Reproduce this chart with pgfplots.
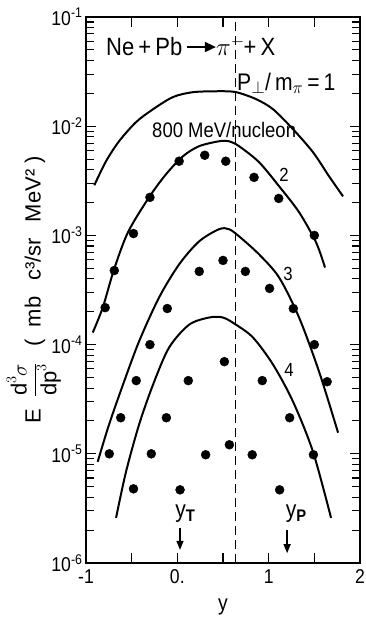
\documentclass[border=0pt]{standalone}
\usepackage{fontspec}
\setmainfont{Liberation Sans}[FakeStretch=0.88]
\newfontfamily\widefont{Liberation Sans}
\usepackage{pgfplots}
\pgfplotsset{compat=1.18}
\usetikzlibrary{arrows.meta}

\pgfplotstableread{
x y
-0.79 2.18e-4
-0.69 4.77e-4
-0.48 1.04e-3
-0.30 2.23e-3
0.02 4.78e-3
0.30 5.42e-3
0.53 4.78e-3
0.84 3.40e-3
1.11 2.18e-3
1.50 1.00e-3
}\dataA
\pgfplotstableread{
x y
-0.745 1.00e-5
-0.62 2.14e-5
-0.45 4.68e-5
-0.30 1.00e-4
-0.11 2.14e-4
0.24 4.68e-4
0.50 5.90e-4
0.745 4.68e-4
1.01 3.27e-4
1.27 2.14e-4
1.50 1.00e-4
1.64 4.57e-5
}\dataB
\pgfplotstableread{
x y
-0.48 4.78e-6
-0.285 1.00e-5
-0.12 2.14e-5
0.12 4.68e-5
0.515 6.98e-5
0.93 4.68e-5
1.23 2.14e-5
1.49 9.80e-6
}\dataC
\pgfplotstableread{
x y
0.03 4.68e-6
0.31 9.80e-6
0.57 1.21e-5
0.82 9.80e-6
1.12 4.68e-6
}\dataD

\begin{document}
\begin{tikzpicture}
\begin{axis}[
  at={(0pt,0pt)}, anchor=south west,
  scale only axis, width=274pt, height=546pt,
  ymode=log, xmin=-1, xmax=2, ymin=1e-6, ymax=1e-1,
  xtick={-1,-0.5,0,0.5,1,1.5,2},
  xticklabels={-1,,0.,,1,,2},
  ytick={1e-6,1e-5,1e-4,1e-3,1e-2,1e-1},
  yticklabels={10\textsuperscript{-6},10\textsuperscript{-5},10\textsuperscript{-4},10\textsuperscript{-3},10\textsuperscript{-2},10\textsuperscript{-1}},
  minor ytick={2e-6,3e-6,4e-6,5e-6,6e-6,7e-6,8e-6,9e-6,
               2e-5,3e-5,4e-5,5e-5,6e-5,7e-5,8e-5,9e-5,
               2e-4,3e-4,4e-4,5e-4,6e-4,7e-4,8e-4,9e-4,
               2e-3,3e-3,4e-3,5e-3,6e-3,7e-3,8e-3,9e-3,
               2e-2,3e-2,4e-2,5e-2,6e-2,7e-2,8e-2,9e-2},
  major tick length=10pt, minor tick length=8pt,
  tick style={line width=1.1pt, black},
  axis line style={line width=1.4pt},
  ticklabel style={font=\fontsize{20}{24}\selectfont},
  xticklabel style={yshift=-3pt},
  xlabel={y},
  xlabel style={font=\fontsize{22}{26}\selectfont, at={(axis description cs:0.5,-0.081)}, anchor=center},
  ylabel={E\; $\displaystyle\frac{\mbox{d}^3\sigma}{\mbox{dp}^3}$\;\, (\ \ mb\ \, c³/sr\ \, MeV²\ )},
  ylabel style={font=\widefont\fontsize{22}{26}\selectfont, at={(axis description cs:-0.19,0.5)}, anchor=center, rotate=0},
  clip=false,
]
% theory curves
\addplot[black, line width=2pt, smooth] coordinates {
(-0.909,2.88e-3) (-0.781,4.77e-3) (-0.638,7.28e-3) (-0.452,1.09e-2) (-0.266,1.43e-2)
(-0.047,1.85e-2) (0.172,2.05e-2) (0.457,2.09e-2) (0.643,2.05e-2) (0.862,1.77e-2)
(1.048,1.43e-2) (1.267,9.38e-3) (1.486,5.77e-3) (1.661,3.48e-3) (1.814,2.28e-3)};
\addplot[black, line width=2pt, smooth] coordinates {
(-0.926,1.29e-4) (-0.817,2.18e-4) (-0.693,4.88e-4) (-0.540,1.07e-3) (-0.310,2.23e-3)
(-0.124,3.63e-3) (0.062,5.31e-3) (0.238,6.56e-3) (0.457,7.28e-3) (0.566,7.28e-3)
(0.676,6.56e-3) (0.895,4.68e-3) (1.114,2.82e-3) (1.333,1.63e-3) (1.519,8.63e-4) (1.617,5.08e-4)};
\addplot[black, line width=2pt, smooth] coordinates {
(-0.872,8.45e-6) (-0.748,1.85e-5) (-0.595,4.30e-5) (-0.419,1.07e-4) (-0.200,2.70e-4)
(0.019,5.42e-4) (0.238,8.81e-4) (0.457,1.14e-3) (0.566,1.14e-3) (0.676,9.80e-4)
(0.895,6.70e-4) (1.114,4.12e-4) (1.333,1.77e-4) (1.552,5.65e-5) (1.760,1.56e-5)};
\addplot[black, line width=2pt, smooth] coordinates {
(-0.671,2.59e-6) (-0.562,6.84e-6) (-0.419,1.85e-5) (-0.266,4.30e-5) (-0.091,9.38e-5)
(0.128,1.52e-4) (0.347,1.77e-4) (0.500,1.77e-4) (0.643,1.52e-4) (0.829,1.16e-4)
(1.048,6.56e-5) (1.267,3.00e-5) (1.486,1.04e-5) (1.683,2.59e-6)};
% dashed line
\addplot[black, line width=1pt, dash pattern=on 9pt off 5pt] coordinates {(0.632,1e-6) (0.632,1e-1)};
% data
\addplot[only marks, mark=*, mark size=4.5pt, black] table[x=x,y=y] {\dataA};
\addplot[only marks, mark=*, mark size=4.5pt, black] table[x=x,y=y] {\dataB};
\addplot[only marks, mark=*, mark size=4.5pt, black] table[x=x,y=y] {\dataC};
\addplot[only marks, mark=*, mark size=4.5pt, black] table[x=x,y=y] {\dataD};
% annotations
\node[anchor=base west, font=\fontsize{25}{29}\selectfont, inner sep=0pt] at (rel axis cs:0.073,0.929)
  {Ne\,+\,Pb};
\draw[line width=1.8pt, -{Triangle[length=11pt,width=10pt]}] (rel axis cs:0.369,0.945) -- (rel axis cs:0.474,0.945);
\node[anchor=base west, font=\fontsize{25}{29}\selectfont, inner sep=0pt] at (rel axis cs:0.474,0.929)
  {$\pi^{-}$\hspace{-1pt}+\,X};
\node[anchor=base west, font=\fontsize{24}{28}\selectfont, inner sep=0pt] at (rel axis cs:0.551,0.866)
  {P$_{\perp}$/\,m$_{\pi}$\,=\,1};
\node[anchor=base west, font=\fontsize{21}{25}\selectfont, inner sep=0pt] at (rel axis cs:0.241,0.780)
  {800 MeV/nucleon};
\node[font=\fontsize{19}{23}\selectfont, inner sep=0pt] at (rel axis cs:0.723,0.710) {2};
\node[font=\fontsize{19}{23}\selectfont, inner sep=0pt] at (rel axis cs:0.737,0.530) {3};
\node[font=\fontsize{19}{23}\selectfont, inner sep=0pt] at (rel axis cs:0.741,0.353) {4};
\node[font=\fontsize{24}{28}\selectfont, inner sep=0pt] at (rel axis cs:0.365,0.090) {y$_{\mathbf{T}}$};
\node[font=\fontsize{24}{28}\selectfont, inner sep=0pt] at (rel axis cs:0.770,0.090) {y$_{\mathbf{P}}$};
\draw[line width=1.3pt, -{Triangle[length=9pt,width=7pt]}] (rel axis cs:0.343,0.064) -- (rel axis cs:0.343,0.024);
\draw[line width=1.3pt, -{Triangle[length=9pt,width=7pt]}] (rel axis cs:0.734,0.060) -- (rel axis cs:0.734,0.018);
\end{axis}
\pgfresetboundingbox
\path[use as bounding box] (-86pt,-58pt) rectangle (280pt,563pt);
\end{tikzpicture}
\end{document}
